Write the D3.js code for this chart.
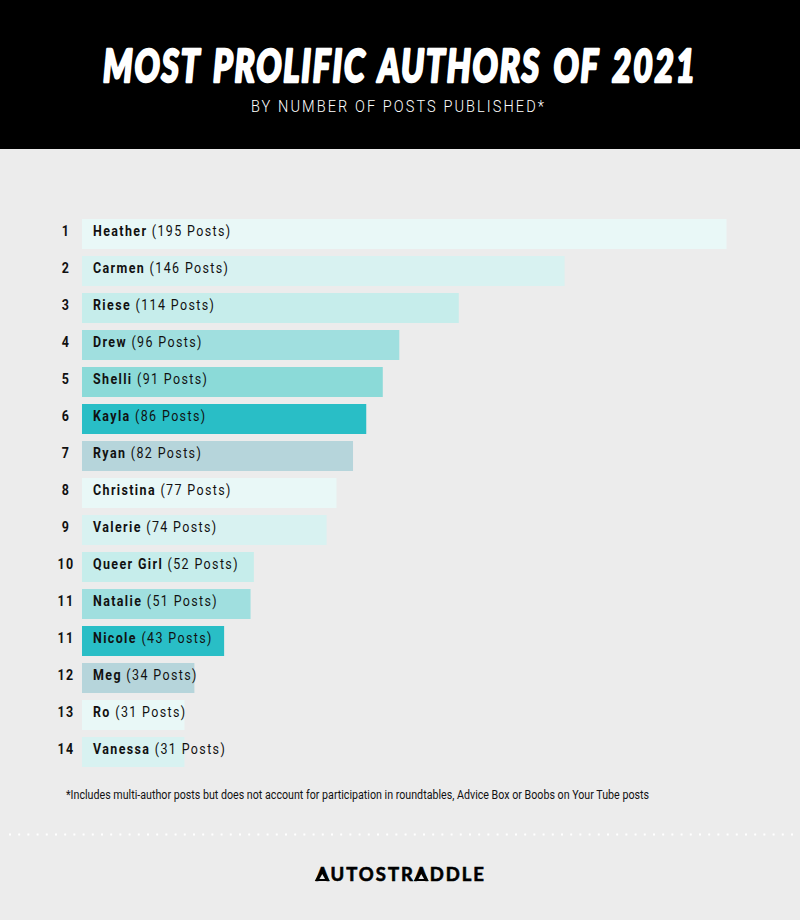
<!DOCTYPE html>
<html>
<head>
<meta charset="utf-8">
<script src="https://cdn.jsdelivr.net/npm/d3@7"></script>
<style>
  html, body { margin: 0; padding: 0; background: #ececec; }
  svg { display: block; }
  text { font-family: Roboto, sans-serif; }
</style>
</head>
<body>
<svg id="chart" width="800" height="920"></svg>
<script>
const titleText = "MOST PROLIFIC AUTHORS OF 2021";
const subtitleText = "BY NUMBER OF POSTS PUBLISHED*";
const footnoteText = "*Includes multi-author posts but does not account for participation in roundtables, Advice Box or Boobs on Your Tube posts";
const logoText = "AUTOSTRADDLE";

const authors = ["Heather", "Carmen", "Riese", "Drew", "Shelli", "Kayla", "Ryan", "Christina", "Valerie", "Queer Girl", "Natalie", "Nicole", "Meg", "Ro", "Vanessa"];
const posts = [195, 146, 114, 96, 91, 86, 82, 77, 74, 52, 51, 43, 34, 31, 31];
const ranks = [1, 2, 3, 4, 5, 6, 7, 8, 9, 10, 11, 11, 12, 13, 14];
const barColors = ["#e9f8f7", "#d8f2f1", "#c6edeb", "#a0dfdf", "#8bdad8", "#29bec6", "#b6d5db", "#e9f8f7", "#d8f2f1", "#c6edeb", "#a0dfdf", "#29bec6", "#b6d5db", "#e9f8f7", "#d8f2f1"];

const svg = d3.select("#chart");
const squeeze = 0.86; // Roboto has no condensed cut here, so narrow it by hand

// header
svg.append("rect").attr("width", 800).attr("height", 149).attr("fill", "#000");

const title = svg.append("text")
  .attr("text-anchor", "middle")
  .style("font-family", "Lato, sans-serif")
  .style("font-size", "46px")
  .style("font-weight", 900)
  .style("font-style", "italic")
  .style("letter-spacing", "2.5px")
  .style("word-spacing", "5px")
  .attr("fill", "#fff")
  .attr("stroke", "#fff")
  .attr("stroke-width", 2.5)
  .attr("stroke-linejoin", "round")
  .text(titleText);
// fit the title to the reference width without textLength
title.attr("transform", `translate(400,82) scale(${594 / title.node().getComputedTextLength()},1)`);

svg.append("text")
  .attr("x", 398.5).attr("y", 112)
  .attr("text-anchor", "middle")
  .attr("textLength", 295)
  .attr("lengthAdjust", "spacingAndGlyphs")
  .style("font-size", "16.5px")
  .style("font-weight", 300)
  .style("letter-spacing", "2.35px")
  .attr("fill", "#fff")
  .text(subtitleText);

// bars
const x = d3.scaleLinear().domain([0, 195]).range([82, 726.5]);
const y = d3.scaleBand().domain(authors).range([219, 767]).paddingInner(7 / 37);

const rows = svg.append("g")
  .selectAll("g")
  .data(authors)
  .enter()
  .append("g");

rows.append("rect")
  .attr("x", x(0))
  .attr("y", d => y(d))
  .attr("width", (d, i) => x(posts[i]) - x(0))
  .attr("height", y.bandwidth())
  .attr("fill", (d, i) => barColors[i]);

rows.append("text")
  .attr("transform", d => `translate(66,${y(d) + 17}) scale(${squeeze},1)`)
  .attr("text-anchor", "middle")
  .style("font-size", "14.5px")
  .style("font-weight", 700)
  .style("letter-spacing", "1.6px")
  .attr("fill", "#111")
  .text((d, i) => ranks[i]);

const labels = rows.append("text")
  .attr("transform", d => `translate(93,${y(d) + 17}) scale(${squeeze},1)`)
  .style("font-size", "14.5px")
  .style("letter-spacing", "1.6px")
  .attr("fill", "#111");

labels.append("tspan").style("font-weight", 700).text(d => d);
labels.append("tspan").style("font-weight", 400).text((d, i) => ` (${posts[i]} Posts)`);

// footnote
svg.append("text")
  .attr("x", 66).attr("y", 799)
  .attr("textLength", 583)
  .attr("lengthAdjust", "spacingAndGlyphs")
  .style("font-size", "12.5px")
  .attr("fill", "#111")
  .text(footnoteText);

// dotted divider
svg.append("line")
  .attr("x1", 9).attr("x2", 800)
  .attr("y1", 834.5).attr("y2", 834.5)
  .attr("stroke", "#fff")
  .attr("stroke-width", 2)
  .attr("stroke-dasharray", "2 7.2");

// logo
const logo = svg.append("text")
  .attr("x", 400).attr("y", 880.5)
  .attr("text-anchor", "middle")
  .attr("textLength", 168)
  .style("font-family", "Lato, sans-serif")
  .style("font-size", "18.5px")
  .style("font-weight", 700)
  .attr("fill", "#000")
  .attr("stroke", "#000")
  .attr("stroke-width", 0.6)
  .text(logoText);

// the logo's A's are solid triangles with a small hole, laid over the letters
logoText.split("").forEach((c, i) => {
  if (c !== "A") return;
  const box = logo.node().getExtentOfChar(i);
  const cx = box.x + box.width / 2, top = 867.5, base = 881;
  svg.append("path")
    .attr("d", `M${cx},${top}L${cx + 7.5},${base}H${cx - 7.5}Z`)
    .attr("fill", "#000");
  svg.append("path")
    .attr("d", `M${cx},${base - 7}L${cx + 2.8},${base - 2}H${cx - 2.8}Z`)
    .attr("fill", "#ececec");
});
</script>
</body>
</html>
